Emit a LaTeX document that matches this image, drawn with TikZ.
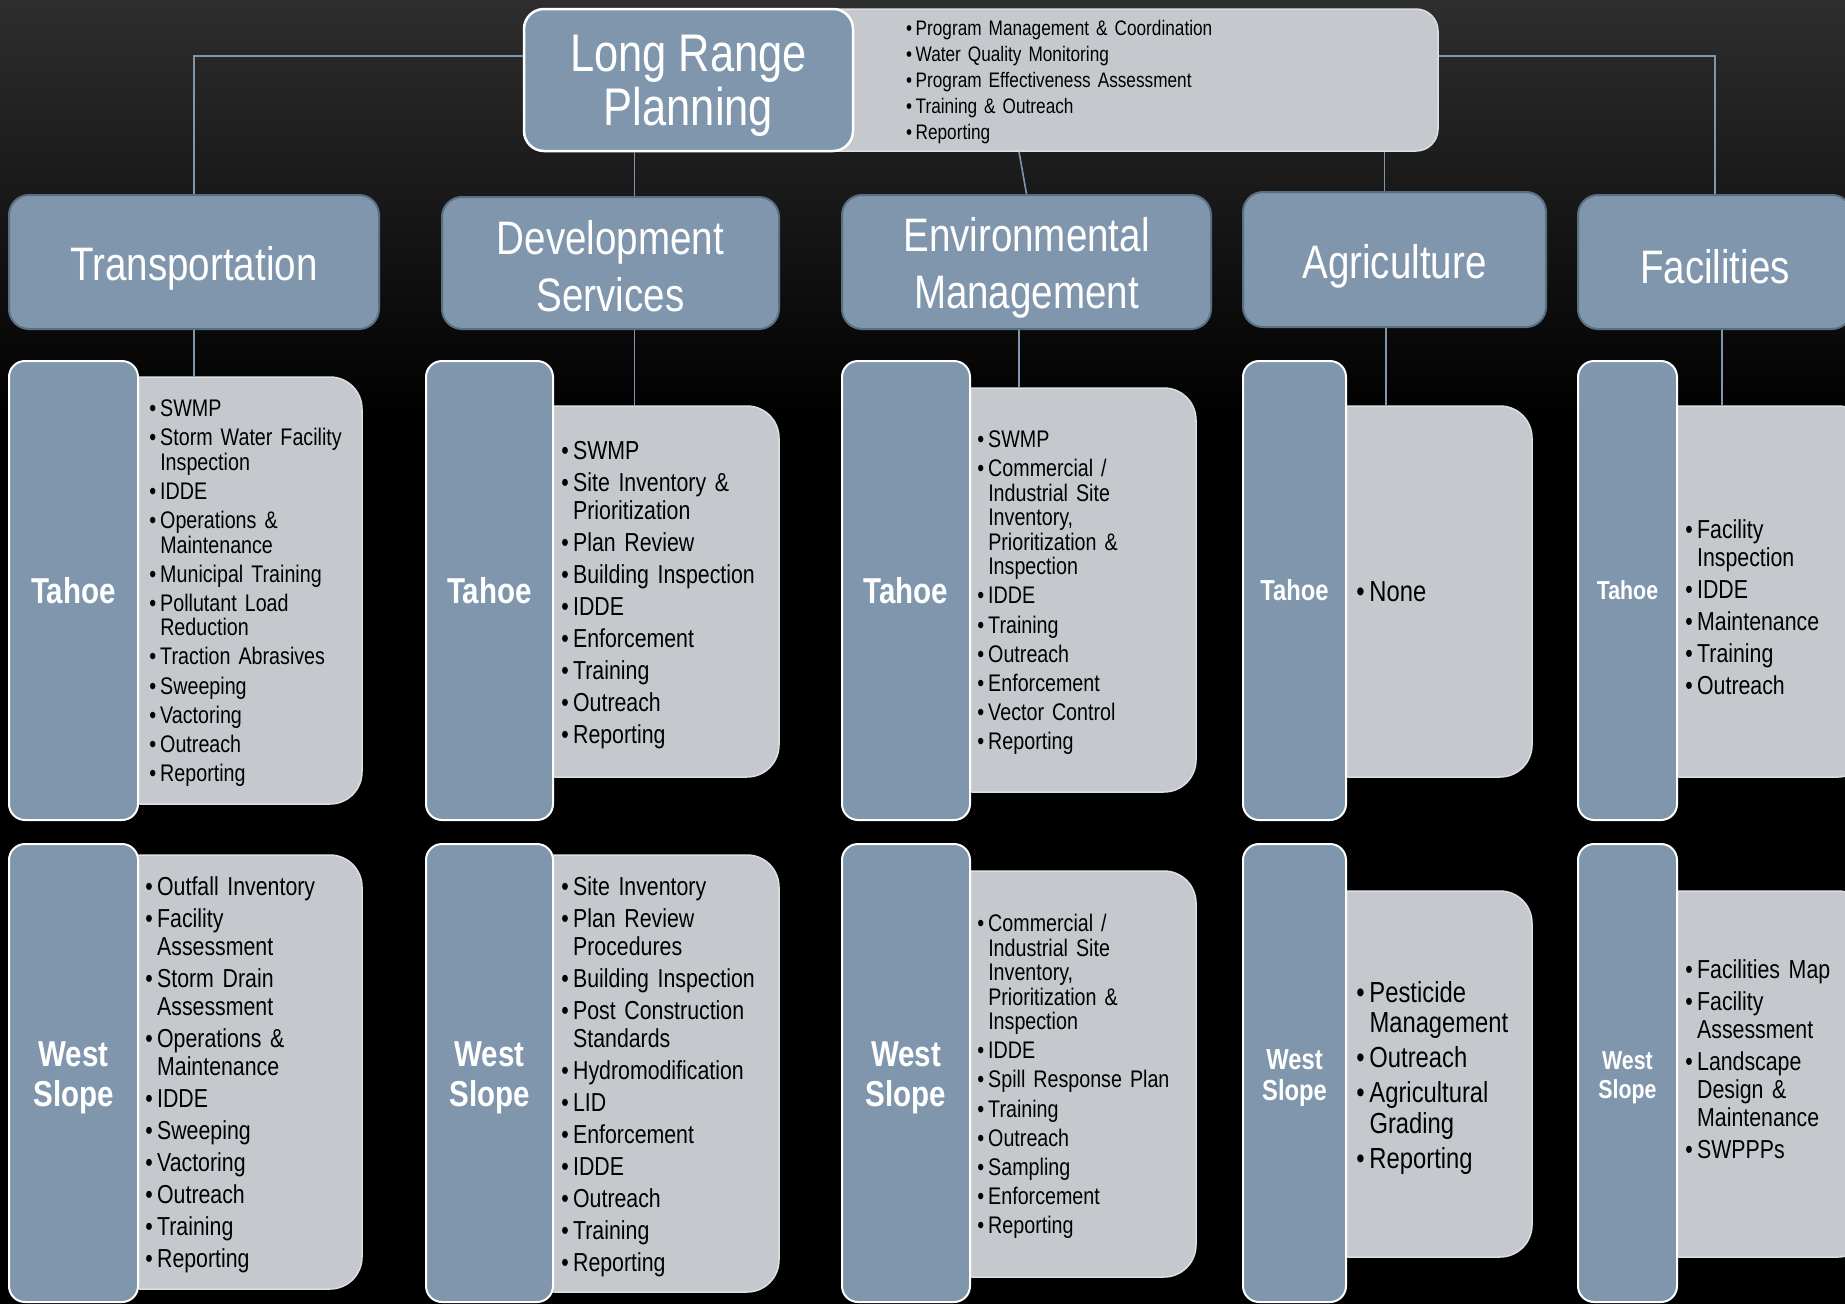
\documentclass[tikz,border=0pt]{standalone}
\usepackage{fontspec}
\setmainfont{Liberation Sans}[FakeStretch=0.82]
\usepackage{xcolor}

\definecolor{boxblue}{HTML}{7F96AD}
\definecolor{dutygray}{HTML}{C5C9CE}
\definecolor{dutyedge}{HTML}{DCDFE3}
\definecolor{headedge}{HTML}{5A6E84}
\definecolor{linkblue}{HTML}{7F96AD}
\definecolor{bgtop}{HTML}{2E2E2E}

% one bullet item with hanging indent
\newcommand{\itm}[1]{\par\hangindent=0.45em\hangafter=1\noindent\makebox[0.45em][l]{\textbullet}#1}
% drop a title line a little without changing its box
\newcommand{\lowtxt}[2][6pt]{\raisebox{-#1}[\height][\depth]{#2}}

\tikzset{
  head/.style={draw=headedge, line width=2pt, fill=boxblue, rounded corners=20pt, text=white, align=center,
    font=\fontsize{47}{57}\selectfont, minimum height=134pt},
  area/.style={draw=white, line width=2pt, fill=boxblue, rounded corners=16pt, text=white, align=center,
    minimum height=459pt, font=\bfseries\fontsize{36}{40}\selectfont},
  duty/.style={draw=dutyedge, line width=1.5pt, fill=dutygray, rounded corners=32pt},
  items/.style={anchor=west, inner sep=0pt, text width=330pt, align=left, text=black, yshift=3.5pt},
  lstS/.style={font=\fontsize{24}{24.5}\selectfont\setlength{\parskip}{4.6pt}},
  lstM/.style={font=\fontsize{26}{28}\selectfont\setlength{\parskip}{4pt}},
  lstL/.style={font=\fontsize{29}{30.5}\selectfont\setlength{\parskip}{4.5pt}},
  link/.style={draw=linkblue, line width=1.6pt},
}

\begin{document}
\begin{tikzpicture}[x=1pt, y=-1pt]
% backdrop
\useasboundingbox (0,0) rectangle (1845,1304);
\fill[black] (0,0) rectangle (1845,1304);
\shade[top color=bgtop, bottom color=black] (0,0) rectangle (1845,420);

% long range planning + program wide tasks
\node[duty, rounded corners=22pt, minimum width=638pt, minimum height=142pt] (scopebox) at (1119,80) {};
\node[items, font=\fontsize{21}{26}\selectfont] (scopelist) at (906,80) {%
  \itm{Program Management \& Coordination}
  \itm{Water Quality Monitoring}
  \itm{Program Effectiveness Assessment}
  \itm{Training \& Outreach}
  \itm{Reporting}};
\node[draw=white, line width=2.5pt, fill=boxblue, rounded corners=20pt, text=white, align=center,
  font=\fontsize{53}{54}\selectfont, minimum width=329pt, minimum height=142pt] (lrp) at (688.5,80)
  {\lowtxt{Long Range}\\\lowtxt{Planning}};

% departments
\node[head, minimum width=370pt] (trans) at (194,262) {\lowtxt{Transportation}};
\node[head, minimum width=337pt, minimum height=132pt] (devsvc) at (610.5,263)
  {\lowtxt[3pt]{Development}\\\lowtxt[3pt]{Services}};
\node[head, minimum width=369pt] (envmgt) at (1026.5,262) {\lowtxt{Environmental}\\\lowtxt{Management}};
\node[head, minimum width=303pt, minimum height=135pt] (agri) at (1394.5,259.5) {\lowtxt[7pt]{Agriculture}};
\node[head, minimum width=274pt] (facil) at (1715,262) {\lowtxt[5pt]{Facilities}};

% Transportation
\node[duty, minimum width=254pt, minimum height=427pt] (trTahoeDuty) at (235,590.5) {};
\node[area, minimum width=129pt] (trTahoe) at (73.5,590.5) {Tahoe};
\node[items, lstS] (trTahoeList) at ([xshift=42pt]trTahoeDuty.west) {%
  \itm{SWMP}
  \itm{Storm Water Facility\newline Inspection}
  \itm{IDDE}
  \itm{Operations \&\newline Maintenance}
  \itm{Municipal Training}
  \itm{Pollutant Load\newline Reduction}
  \itm{Traction Abrasives}
  \itm{Sweeping}
  \itm{Vactoring}
  \itm{Outreach}
  \itm{Reporting}};
\node[duty, minimum width=254pt, minimum height=434pt] (trWestDuty) at (235,1072) {};
\node[area, minimum width=129pt, minimum height=458pt] (trWest) at (73.5,1073) {\lowtxt[5pt]{West}\\\lowtxt[5pt]{Slope}};
\node[items, lstM] (trWestList) at ([xshift=38pt]trWestDuty.west) {%
  \itm{Outfall Inventory}
  \itm{Facility\newline Assessment}
  \itm{Storm Drain\newline Assessment}
  \itm{Operations \&\newline Maintenance}
  \itm{IDDE}
  \itm{Sweeping}
  \itm{Vactoring}
  \itm{Outreach}
  \itm{Training}
  \itm{Reporting}};

% Development Services
\node[duty, minimum width=256pt, minimum height=371pt] (dvTahoeDuty) at (651,591.5) {};
\node[area, minimum width=127pt] (dvTahoe) at (489.5,590.5) {Tahoe};
\node[items, lstM] (dvTahoeList) at ([xshift=39pt]dvTahoeDuty.west) {%
  \itm{SWMP}
  \itm{Site Inventory \&\newline Prioritization}
  \itm{Plan Review}
  \itm{Building Inspection}
  \itm{IDDE}
  \itm{Enforcement}
  \itm{Training}
  \itm{Outreach}
  \itm{Reporting}};
\node[duty, minimum width=256pt, minimum height=437pt] (dvWestDuty) at (651,1073.5) {};
\node[area, minimum width=127pt, minimum height=458pt] (dvWest) at (489.5,1073) {\lowtxt[5pt]{West}\\\lowtxt[5pt]{Slope}};
\node[items, lstM] (dvWestList) at ([xshift=39pt]dvWestDuty.west) {%
  \itm{Site Inventory}
  \itm{Plan Review\newline Procedures}
  \itm{Building Inspection}
  \itm{Post Construction\newline Standards}
  \itm{Hydromodification}
  \itm{LID}
  \itm{Enforcement}
  \itm{IDDE}
  \itm{Outreach}
  \itm{Training}
  \itm{Reporting}};

% Environmental Management
\node[duty, minimum width=256pt, minimum height=404pt] (emTahoeDuty) at (1068,590) {};
\node[area, minimum width=128pt] (emTahoe) at (906,590.5) {Tahoe};
\node[items, lstS] (emTahoeList) at ([xshift=38pt]emTahoeDuty.west) {%
  \itm{SWMP}
  \itm{Commercial /\newline Industrial Site\newline Inventory,\newline Prioritization \&\newline Inspection}
  \itm{IDDE}
  \itm{Training}
  \itm{Outreach}
  \itm{Enforcement}
  \itm{Vector Control}
  \itm{Reporting}};
\node[duty, minimum width=256pt, minimum height=406pt] (emWestDuty) at (1068,1074) {};
\node[area, minimum width=128pt, minimum height=458pt] (emWest) at (906,1073) {\lowtxt[5pt]{West}\\\lowtxt[5pt]{Slope}};
\node[items, lstS] (emWestList) at ([xshift=38pt]emWestDuty.west) {%
  \itm{Commercial /\newline Industrial Site\newline Inventory,\newline Prioritization \&\newline Inspection}
  \itm{IDDE}
  \itm{Spill Response Plan}
  \itm{Training}
  \itm{Outreach}
  \itm{Sampling}
  \itm{Enforcement}
  \itm{Reporting}};

% Agriculture
\node[duty, minimum width=216pt, minimum height=371pt] (agTahoeDuty) at (1424,591.5) {};
\node[area, minimum width=103pt, font=\bfseries\fontsize{29}{31}\selectfont] (agTahoe) at (1294.5,590.5) {Tahoe};
\node[items, lstL, yshift=3.5pt] (agTahoeList) at ([xshift=41pt]agTahoeDuty.west) {\itm{None}};
\node[duty, minimum width=216pt, minimum height=366pt] (agWestDuty) at (1424,1074) {};
\node[area, minimum width=103pt, minimum height=458pt, font=\bfseries\fontsize{29}{31}\selectfont] (agWest) at (1294.5,1073)
  {\lowtxt[5pt]{West}\\\lowtxt[5pt]{Slope}};
\node[items, lstL] (agWestList) at ([xshift=41pt]agWestDuty.west) {%
  \itm{Pesticide\newline Management}
  \itm{Outreach}
  \itm{Agricultural\newline Grading}
  \itm{Reporting}};

% Facilities
\node[duty, minimum width=223pt, minimum height=371pt] (faTahoeDuty) at (1758.5,591.5) {};
\node[area, minimum width=99pt, font=\bfseries\fontsize{26}{29}\selectfont] (faTahoe) at (1627.5,590.5) {Tahoe};
\node[items, lstM, yshift=-13pt] (faTahoeList) at ([xshift=39pt]faTahoeDuty.west) {%
  \itm{Facility\newline Inspection}
  \itm{IDDE}
  \itm{Maintenance}
  \itm{Training}
  \itm{Outreach}};
\node[duty, minimum width=223pt, minimum height=366pt] (faWestDuty) at (1758.5,1074) {};
\node[area, minimum width=99pt, minimum height=458pt, font=\bfseries\fontsize{26}{29}\selectfont] (faWest) at (1627.5,1073)
  {\lowtxt[5pt]{West}\\\lowtxt[5pt]{Slope}};
\node[items, lstM, yshift=17.5pt] (faWestList) at ([xshift=39pt]faWestDuty.west) {%
  \itm{Facilities Map}
  \itm{Facility\newline Assessment}
  \itm{Landscape\newline Design \&\newline Maintenance}
  \itm{SWPPPs}};

% connectors, top level
\draw[link] ([yshift=24pt]lrp.west) -| (trans.north);
\draw[link] ([yshift=24pt]scopebox.east) -| (facil.north);
\draw[link] ([xshift=24pt]devsvc.north |- lrp.south) -- ([xshift=24pt]devsvc.north);
\draw[link] ([xshift=-100pt]scopebox.south) -- (envmgt.north);
\draw[link] ([xshift=-10pt]agri.north |- scopebox.south) -- ([xshift=-10pt]agri.north);

% connectors, departments to areas
\draw[link] (trans.south) -- (trans.south |- trTahoeDuty.north);
\draw[link] ([xshift=24pt]devsvc.south) -- ([xshift=24pt]devsvc.south |- dvTahoeDuty.north);
\draw[link] ([xshift=-7.5pt]envmgt.south) -- ([xshift=-7.5pt]envmgt.south |- emTahoeDuty.north);
\draw[link] ([xshift=-8.5pt]agri.south) -- ([xshift=-8.5pt]agri.south |- agTahoeDuty.north);
\draw[link] ([xshift=7pt]facil.south) -- ([xshift=7pt]facil.south |- faTahoeDuty.north);
\end{tikzpicture}
\end{document}
